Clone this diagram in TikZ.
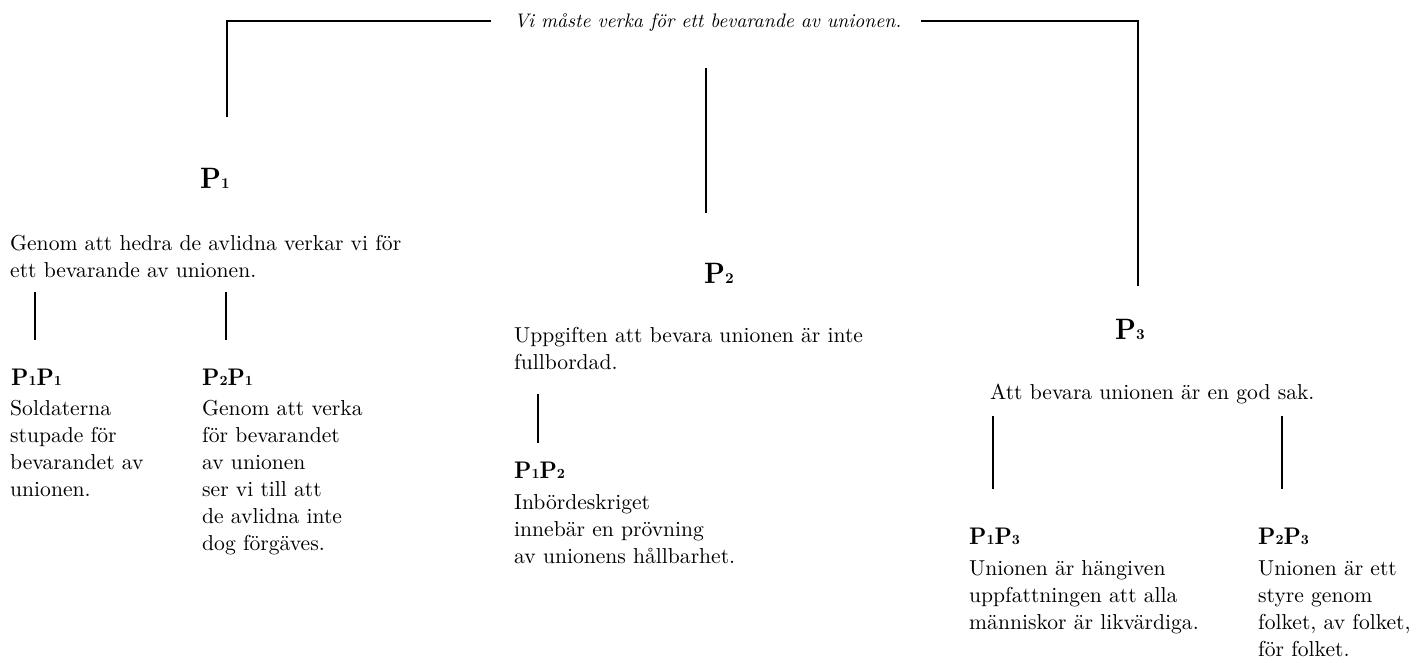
\documentclass[tikz,border=0pt]{standalone}
\usepackage{fontspec}
\usepackage{graphicx}
\setmainfont{lmroman10}[Extension=.otf, UprightFont=*-regular, BoldFont=*-bold, ItalicFont=*-italic, BoldItalicFont=*-bolditalic]
\newcommand\blk[1]{\vtop{\baselineskip=27pt\lineskiplimit=-20pt\halign{##\hfil\cr#1\crcr}}}
\newcommand\bigP[1]{{\bfseries\fontsize{29.5}{29.5}\selectfont\scalebox{0.9}[1]{P}{\fontsize{15}{15}\selectfont #1}}}
\newcommand\smallP[2]{{\bfseries\fontsize{24}{24}\selectfont\scalebox{0.92}[1]{P}{\fontsize{14}{14}\selectfont #1}\scalebox{0.92}[1]{P}{\fontsize{14}{14}\selectfont #2}}}
\begin{document}
\begin{tikzpicture}[x=1pt,y=-1pt,
  body/.style={inner sep=0pt, anchor=base west, font=\fontsize{21.6}{27}\selectfont},
  titletext/.style={inner sep=0pt, anchor=base west, font=\fontsize{19.6}{27}\selectfont\itshape},
  lbl/.style={inner sep=0pt, anchor=base west},
  ln/.style={line width=1.8pt, line cap=butt}]
\useasboundingbox[fill=white] (0,0) rectangle (1426,662);
% title
\node[titletext] (t) at (514,27) {Vi måste verka för ett bevarande av unionen.};
% P1 branch
\node[lbl] (p1) at (200,188) {\bigP{1}};
\node[body] (p1t) at (10,250) {\blk{Genom att hedra de avlidna verkar vi för\cr ett bevarande av unionen.}};
\node[lbl] (p1p1) at (11,385) {\smallP{1}{1}};
\node[body] (p1p1t) at (10,415) {\blk{Soldaterna\cr stupade för\cr bevarandet av\cr unionen.}};
\node[lbl] (p2p1) at (202,385) {\smallP{2}{1}};
\node[body] (p2p1t) at (202,415) {\blk{Genom att verka\cr för bevarandet\cr av unionen\cr ser vi till att\cr de avlidna inte\cr dog förgäves.}};
% P2 branch
\node[lbl] (p2) at (704,283) {\bigP{2}};
\node[body] (p2t) at (514,342) {\blk{Uppgiften att bevara unionen är inte\cr fullbordad.}};
\node[lbl] (p1p2) at (514,478) {\smallP{1}{2}};
\node[body] (p1p2t) at (514,509) {\blk{Inbördeskriget\cr innebär en prövning\cr av unionens hållbarhet.}};
% P3 branch
\node[lbl] (p3) at (1115,339) {\bigP{3}};
\node[body] (p3t) at (990,399) {\blk{Att bevara unionen är en god sak.}};
\node[lbl] (p1p3) at (969,544) {\smallP{1}{3}};
\node[body] (p1p3t) at (969,575) {\blk{Unionen är hängiven\cr uppfattningen att alla\cr människor är likvärdiga.}};
\node[lbl] (p2p3) at (1258,544) {\smallP{2}{3}};
\node[body] (p2p3t) at (1258,575) {\blk{Unionen är ett\cr styre genom\cr folket, av folket,\cr för folket.}};
% connectors
\coordinate (tl) at (491,21);
\coordinate (a1) at (227,117);
\coordinate (tr) at (921,21);
\coordinate (a3) at (1138,286);
\coordinate (m1) at (706,68);
\coordinate (m2) at (706,213);
\coordinate (l1a) at (35,292);
\coordinate (l1b) at (35,340);
\coordinate (l2a) at (226,292);
\coordinate (l2b) at (226,340);
\coordinate (l3a) at (538,394);
\coordinate (l3b) at (538,443);
\coordinate (l4a) at (993,416);
\coordinate (l4b) at (993,489);
\coordinate (l5a) at (1282,416);
\coordinate (l5b) at (1282,489);
\draw[ln] (tl) -| (a1);
\draw[ln] (tr) -| (a3);
\draw[ln] (m1) -- (m2);
\draw[ln] (l1a) -- (l1b);
\draw[ln] (l2a) -- (l2b);
\draw[ln] (l3a) -- (l3b);
\draw[ln] (l4a) -- (l4b);
\draw[ln] (l5a) -- (l5b);
\end{tikzpicture}
\end{document}
